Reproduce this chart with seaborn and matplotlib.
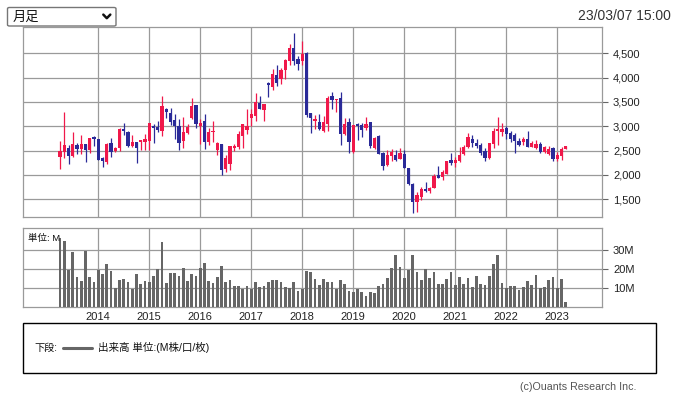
import numpy as np
import pandas as pd
import seaborn as sns
import matplotlib.pyplot as plt
from matplotlib.patches import FancyBboxPatch, Rectangle
from matplotlib.lines import Line2D

# --- 月足データ 2013/04 - 2023/03 (チャートから読み取り) ---
open_ = [2370, 2473, 2548, 2397, 2610, 2527, 2630, 2507, 2774, 2733,
         2342, 2260, 2664, 2493, 2548, 2938, 2877, 2596, 2685, 2685,
         2685, 2699, 3000, 2986, 2904, 3356, 3267, 3137, 3000, 2699,
         2863, 3171, 3445, 3000, 3117, 2678, 2884, 2507, 2630, 2123,
         2219, 2562, 2575, 2801, 2918, 3164, 3206, 3486, 3329, 3884,
         3808, 4048, 3966, 4151, 4343, 4603, 4390, 4343, 4507, 3267,
         3110, 3082, 2897, 3041, 3617, 3548, 3575, 2842, 3082, 2479,
         3041, 3027, 2959, 3096, 2548, 2801, 2445, 2205, 2397, 2411,
         2328, 2424, 2137, 1815, 1438, 1554, 1712, 1671, 1739, 2000,
         1965, 2020, 2308, 2253, 2287, 2431, 2568, 2739, 2657, 2616,
         2499, 2342, 2636, 2903, 2883, 2972, 2855, 2821, 2705, 2670,
         2732, 2581, 2547, 2636, 2465, 2431, 2547, 2321, 2390, 2527]
high = [2692, 3288, 2623, 2877, 2650, 2815, 2630, 2753, 2801, 2733,
        2370, 2658, 2753, 2575, 2966, 3069, 2897, 2829, 2685, 2712,
        2849, 3062, 3055, 3103, 3617, 3370, 3370, 3260, 3158, 3192,
        3041, 3575, 3445, 3144, 3260, 2966, 3110, 2685, 2630, 2411,
        2603, 2644, 2897, 3055, 3356, 3349, 3678, 3617, 3466, 3911,
        4171, 4267, 4199, 4380, 4685, 4911, 4438, 4747, 4521, 3267,
        3233, 3260, 3219, 3617, 3699, 3568, 3712, 3164, 3164, 3027,
        3061, 3061, 3198, 3096, 2787, 2822, 2479, 2513, 2527, 2513,
        2548, 2513, 2137, 1829, 1657, 1760, 1863, 1760, 2013, 2191,
        2102, 2294, 2445, 2376, 2582, 2616, 2869, 2821, 2739, 2650,
        2547, 2664, 2958, 3198, 3061, 3006, 2910, 2855, 2753, 2773,
        2910, 2698, 2719, 2684, 2595, 2595, 2568, 2479, 2581, 2595]
low = [2123, 2356, 2219, 2370, 2425, 2425, 2260, 2452, 2596, 2301,
       2164, 2233, 2370, 2473, 2493, 2815, 2575, 2575, 2247, 2507,
       2507, 2507, 2658, 2890, 2794, 3164, 3027, 2740, 2507, 2548,
       2849, 3151, 2973, 2644, 2534, 2616, 2685, 2418, 2000, 2055,
       2096, 2493, 2534, 2562, 2849, 3007, 3110, 3356, 3110, 3603,
       3740, 3822, 3863, 3980, 4254, 4267, 4151, 4254, 3200, 2863,
       2952, 2918, 2877, 2897, 3356, 3288, 2616, 2822, 2445, 2445,
       2719, 2787, 2924, 2561, 2534, 2438, 2102, 2191, 2287, 2287,
       2328, 2137, 1794, 1226, 1246, 1486, 1657, 1623, 1726, 1931,
       1897, 2013, 2205, 2171, 2273, 2410, 2547, 2581, 2547, 2410,
       2294, 2328, 2547, 2616, 2801, 2732, 2684, 2444, 2595, 2616,
       2568, 2568, 2527, 2458, 2444, 2410, 2294, 2294, 2308, 2527]
close = [2493, 2610, 2390, 2630, 2527, 2630, 2507, 2753, 2740, 2308,
         2288, 2644, 2473, 2548, 2938, 2904, 2596, 2671, 2555, 2712,
         2733, 3062, 2966, 2918, 3425, 3288, 3096, 3000, 2658, 2877,
         2986, 3411, 3055, 3075, 2671, 2877, 2911, 2664, 2096, 2342,
         2589, 2589, 2849, 3041, 3000, 3247, 3493, 3356, 3452, 3843,
         4069, 3884, 4164, 4356, 4603, 4343, 4288, 4480, 3233, 3164,
         3144, 2945, 3082, 3589, 3548, 3568, 2842, 3048, 2685, 3027,
         3000, 2924, 3048, 2596, 2753, 2438, 2191, 2411, 2479, 2308,
         2445, 2150, 1808, 1452, 1589, 1712, 1671, 1739, 1986, 1945,
         2068, 2287, 2253, 2308, 2410, 2568, 2773, 2650, 2602, 2458,
         2342, 2664, 2910, 2944, 2944, 2842, 2739, 2705, 2623, 2739,
         2581, 2650, 2636, 2479, 2568, 2527, 2321, 2410, 2527, 2595]
# 出来高 (M)
volume = [36.1, 34.9, 19.5, 29.0, 15.9, 13.8, 29.5, 15.9, 13.3, 19.5,
          17.5, 22.7, 19.0, 10.0, 14.3, 14.8, 13.3, 9.8, 17.5, 12.2,
          13.6, 13.3, 16.4, 19.9, 34.2, 12.7, 18.0, 18.0, 16.4, 20.4,
          13.8, 17.5, 16.4, 20.4, 23.2, 13.8, 12.7, 15.9, 21.6, 13.3,
          14.3, 11.2, 11.2, 9.8, 11.2, 9.8, 13.3, 10.8, 11.3, 13.3,
          14.3, 14.3, 13.3, 10.8, 10.1, 13.3, 8.7, 9.8, 19.0, 18.5,
          14.8, 11.7, 14.8, 13.3, 13.3, 9.8, 14.3, 12.2, 8.6, 8.0,
          9.6, 8.0, 6.1, 8.2, 7.5, 11.2, 12.2, 15.5, 20.8, 27.1,
          21.1, 15.5, 19.5, 27.1, 18.2, 14.3, 19.9, 15.5, 18.2, 12.2,
          12.2, 14.8, 18.5, 11.9, 15.9, 12.2, 15.4, 10.6, 16.4, 12.2,
          11.7, 16.4, 22.7, 27.1, 12.7, 10.1, 11.2, 11.2, 9.2, 10.6,
          13.8, 11.7, 16.9, 10.1, 10.6, 14.3, 15.9, 10.1, 14.8, 2.8]
price_ticks = [1500, 2000, 2500, 3000, 3500, 4000, 4500]
vol_ticks = [10, 20, 30]

RED = '#f0184a'
BLUE = '#2a2a98'
GRID = '#9a9a9a'

df = pd.DataFrame({'month': pd.period_range('2013-04', periods=len(close), freq='M'),
                   'open': open_, 'high': high, 'low': low, 'close': close, 'vol': volume})
df['x'] = np.arange(len(df))
jan = df[df['month'].dt.month == 1]

sns.set_theme(style="white")
plt.rcParams['font.family'] = ['Liberation Sans', 'Noto Sans CJK JP']

W, H = 677, 395
fx = lambda px: px / W
fy = lambda py: 1 - py / H

fig = plt.figure(figsize=(W / 100, H / 100), dpi=100)
ax = fig.add_axes([fx(23.3), fy(217.3), 579 / W, 190 / H])
axv = fig.add_axes([fx(23.3), fy(307.3), 579 / W, 79 / H])

# --- ローソク足 ---
up = df['close'] >= df['open']
colors = np.where(up, RED, BLUE)
ax.vlines(df['x'], df['low'], df['high'], colors=colors, lw=0.9, zorder=3)
body = np.maximum((df['close'] - df['open']).abs(), 18)
ax.bar(df['x'], body, bottom=np.minimum(df['open'], df['close']),
       width=0.78, color=colors, linewidth=0, zorder=4)

ax.set_xlim(-8.64, 127.6)
ax.set_ylim(1130, 5034)
ax.set_yticks(price_ticks)
ax.set_yticklabels([f"{v:,}" for v in price_ticks])
ax.yaxis.tick_right()
ax.set_xticks(jan['x'])
ax.tick_params(axis='x', length=0, labelbottom=False)
ax.tick_params(axis='y', length=4.3, width=0.8, color='#666', pad=3.4,
               labelsize=8, labelcolor='#222')
ax.grid(True, color=GRID, lw=0.9)
ax.set_axisbelow(True)

# --- 出来高 ---
sns.barplot(data=df, x='x', y='vol', native_scale=True, color='#666666',
            saturation=1, width=0.66, errorbar=None, ax=axv, zorder=3,
            linewidth=0, antialiased=False)
axv.set_xlim(-8.64, 127.6)
axv.set_ylim(0, 41.3)
axv.set_yticks(vol_ticks)
axv.set_yticklabels([f"{v}M" for v in vol_ticks])
axv.yaxis.tick_right()
axv.set_xticks(jan['x'])
axv.set_xticklabels(jan['month'].dt.year.astype(str))
axv.tick_params(axis='x', length=0, pad=3.2, labelsize=8, labelcolor='#222')
axv.tick_params(axis='y', length=4.3, width=0.8, color='#666', pad=3.4,
                labelsize=8, labelcolor='#222')
axv.set_xlabel('')
axv.set_ylabel('')
axv.grid(True, color=GRID, lw=0.9)
axv.set_axisbelow(True)
axv.text(0.008, 0.87, '単位: M', transform=axv.transAxes, fontsize=6.8,
         color='#111', va='center', zorder=5)

for a in (ax, axv):
    for s in a.spines.values():
        s.set_color(GRID)
        s.set_linewidth(0.9)

# --- 上部: 足種セレクタと日時 ---
fig.add_artist(FancyBboxPatch((fx(7.5), fy(26)), (116 - 7.5) / W, (26 - 7.5) / H,
                              boxstyle='round,pad=0,rounding_size=0.003',
                              transform=fig.transFigure, fc='white', ec='#767676', lw=1))
fig.text(fx(12.5), fy(17), '月足', fontsize=9.5, va='center', color='#111',
         family=['Noto Sans CJK JP'])
fig.add_artist(Line2D([fx(103.3), fx(106.8), fx(110.3)], [fy(14.6), fy(18.2), fy(14.6)],
                      transform=fig.transFigure, color='#111', lw=1.8))
fig.text(fx(670.7), fy(15.5), '23/03/07 15:00', fontsize=10, ha='right',
         va='center', color='#333')

# --- 凡例 ---
fig.add_artist(Rectangle((fx(23.3), fy(373.3)), (655.7 - 23.3) / W, (373.3 - 322.7) / H,
                         transform=fig.transFigure, fill=False, ec='black', lw=1))
fig.text(fx(34.5), fy(347.5), '下段:', fontsize=7.3, va='center', color='#111')
fig.add_artist(Line2D([fx(63), fx(92)], [fy(347.5), fy(347.5)],
                      transform=fig.transFigure, color='#666666', lw=2.2))
fig.text(fx(98.5), fy(347.5), '出来高 単位:(M株/口/枚)', fontsize=7.6,
         va='center', color='#111')

fig.text(fx(637), fy(387.5), '(c)Ouants Research Inc.', fontsize=7.7,
         ha='right', va='center', color='#555')

fig.savefig('out.png', dpi=100)
